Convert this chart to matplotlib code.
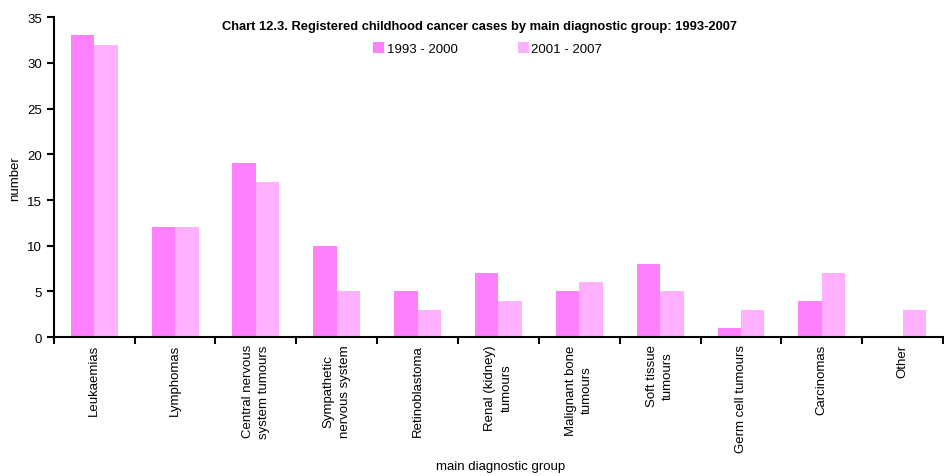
import numpy as np
import matplotlib.pyplot as plt

plt.rcParams['font.family'] = ['Liberation Sans', 'DejaVu Sans']

# data
groups = ['Leukaemias', 'Lymphomas', 'Central nervous\nsystem tumours',
          'Sympathetic\nnervous system', 'Retinoblastoma', 'Renal (kidney)\ntumours',
          'Malignant bone\ntumours', 'Soft tissue\ntumours', 'Germ cell tumours',
          'Carcinomas', 'Other']
cases_1993_2000 = [33, 12, 19, 10, 5, 7, 5, 8, 1, 4, 0]
cases_2001_2007 = [32, 12, 17, 5, 3, 4, 6, 5, 3, 7, 3]
series_labels = ['1993 - 2000', '2001 - 2007']

fig = plt.figure(figsize=(9.44, 4.77), dpi=100)
ax = fig.add_axes([0.057, 0.291, 0.942, 0.671])

x = np.arange(len(groups))
w = 0.29
ax.bar(x - w / 2, cases_1993_2000, w, color='#ff80ff', label=series_labels[0])
ax.bar(x + w / 2, cases_2001_2007, w, color='#ffb0ff', label=series_labels[1])

ax.set_xlim(-0.5, len(groups) - 0.5)
ax.set_ylim(0, 35)
ax.set_yticks(range(0, 36, 5))

# tick marks at category boundaries, labels at centres
ax.set_xticks(np.arange(len(groups) + 1) - 0.5)
ax.set_xticklabels([])
ax.set_xticks(x, minor=True)
ax.set_xticklabels(groups, minor=True, rotation=90, ha='center', va='top',
                   multialignment='center', fontsize=9.5, linespacing=1.45)
ax.tick_params(axis='x', which='minor', length=0, pad=5)
ax.tick_params(axis='x', which='major', length=5, width=1.5)
ax.tick_params(axis='y', length=5, width=1.5, labelsize=9.5)

for s in ['top', 'right']:
    ax.spines[s].set_visible(False)
for s in ['left', 'bottom']:
    ax.spines[s].set_linewidth(1.5)

fig.text(0.016, 0.625, 'number', rotation=90, ha='center', va='center', fontsize=9.5)
fig.text(0.53, 0.021, 'main diagnostic group', ha='center', va='center', fontsize=9.5)
fig.text(0.508, 0.943, 'Chart 12.3. Registered childhood cancer cases by main diagnostic group: 1993-2007',
         ha='center', va='center', fontsize=9.3, fontweight='bold')

ax.legend(loc='upper center', bbox_to_anchor=(0.488, 0.958), ncol=2, frameon=False,
          fontsize=9.5, handlelength=0.8, handleheight=0.8, handletextpad=0.2,
          columnspacing=4.6)

plt.savefig('out.png', dpi=100)
